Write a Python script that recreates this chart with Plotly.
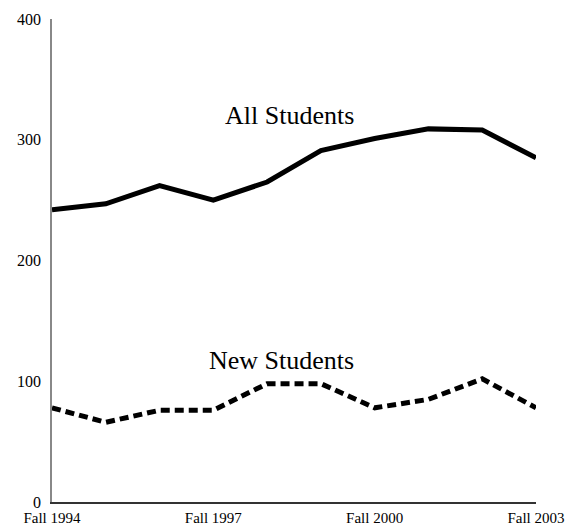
import plotly.graph_objects as go

terms = ["Fall 1994", "Fall 1995", "Fall 1996", "Fall 1997", "Fall 1998",
         "Fall 1999", "Fall 2000", "Fall 2001", "Fall 2002", "Fall 2003"]
all_students = [242, 247, 262, 250, 265, 291, 301, 309, 308, 285]
new_students = [78, 66, 76, 76, 98, 98, 78, 85, 102, 78]
tick_labels = ["Fall 1994", "Fall 1997", "Fall 2000", "Fall 2003"]
y_ticks = [0, 100, 200, 300, 400]

FONT = "Palatino Linotype, Book Antiqua, Palatino, Liberation Serif, serif"

fig = go.Figure()
fig.add_trace(go.Scatter(x=terms, y=all_students, mode="lines",
                         line=dict(color="black", width=5), showlegend=False,
                         name="All Students"))
fig.add_trace(go.Scatter(x=terms, y=new_students, mode="lines",
                         line=dict(color="black", width=5, dash="9px,5px"),
                         showlegend=False, name="New Students"))

fig.add_annotation(x=4.42, y=320, text="All Students", showarrow=False,
                   font=dict(family=FONT, size=26, color="black"))
fig.add_annotation(x=4.27, y=117, text="New Students", showarrow=False,
                   font=dict(family=FONT, size=26, color="black"))

fig.update_xaxes(type="category", range=[0, 9], tickmode="array",
                 tickvals=tick_labels, ticktext=tick_labels,
                 showgrid=False, zeroline=False, showline=True,
                 linecolor="#333333", linewidth=1.5, ticks="",
                 automargin=False, ticklabelstandoff=1,
                 tickfont=dict(family=FONT, size=15, color="black"))
fig.update_yaxes(range=[0, 400], tickmode="array", tickvals=y_ticks,
                 showgrid=False, zeroline=False, showline=True,
                 linecolor="#888888", linewidth=1.5, ticks="",
                 automargin=False, ticklabelstandoff=6,
                 tickfont=dict(family=FONT, size=16, color="black"))

fig.update_layout(width=565, height=527, plot_bgcolor="white",
                  paper_bgcolor="white",
                  margin=dict(l=52, r=29, t=19, b=25))

fig.write_html("out.html", config={"displayModeBar": False},
               post_script="document.body.style.margin='0px';")
